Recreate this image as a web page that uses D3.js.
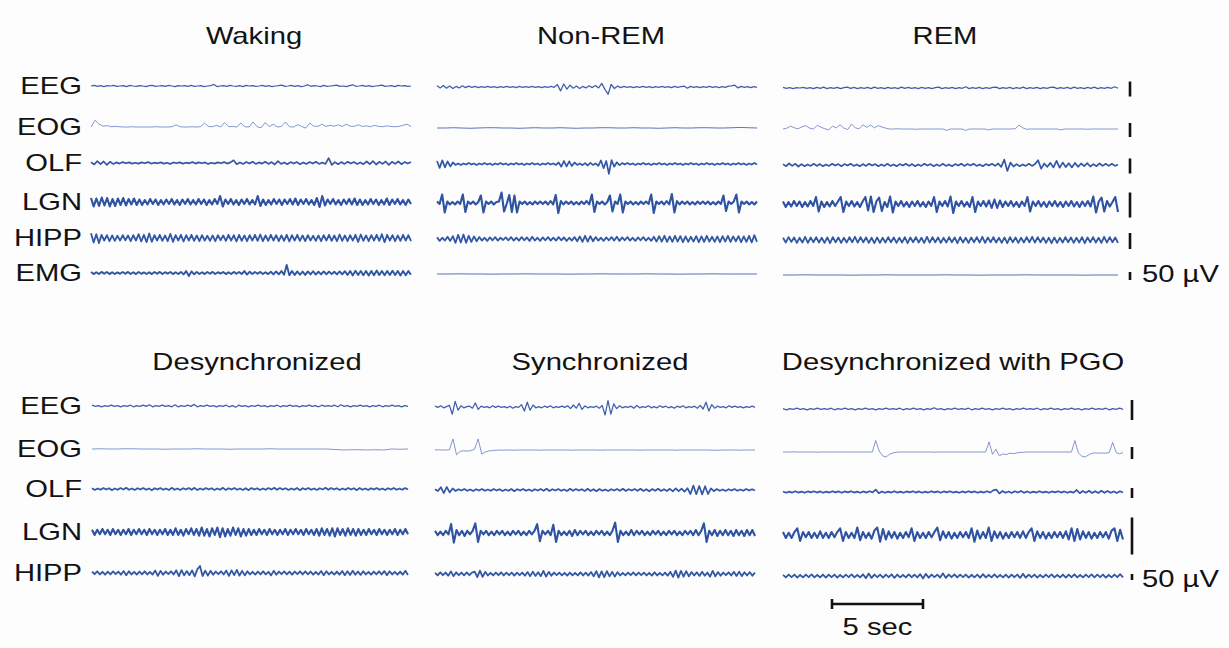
<!DOCTYPE html>
<html><head><meta charset="utf-8">
<script src="https://cdn.jsdelivr.net/npm/d3@7/dist/d3.min.js"></script>
<style>body{margin:0;background:#fdfdfd}svg{display:block}</style>
</head><body><svg id="c" width="1229" height="648"></svg>
<script>
// ---------- labels ----------
const topTitles = ["Waking", "Non-REM", "REM"];
const bottomTitles = ["Desynchronized", "Synchronized", "Desynchronized with PGO"];
const topChannels = ["EEG", "EOG", "OLF", "LGN", "HIPP", "EMG"];
const bottomChannels = ["EEG", "EOG", "OLF", "LGN", "HIPP"];
const ampBarValue = 50, ampBarLabel = "50 \u00B5V";
const timeBarValue = 5, timeBarLabel = "5 sec";

// ---------- traces (µV, evenly sampled across each panel) ----------
const wakeEEG = [0,2,-1,1,-2,1,0,2,-1,0,1,-2,2,0,-1,1,0,-2,1,2,-1,0,1,-1,2,0,-2,1,0,1,-1,2,-1,0,1,-2,0,1,5,-2,0,1,-1,2,0,-1,1,-2,2,0,1,-1,0,2,-1,1,-2,0,1,3,-1,0,2,-1,1,-2,0,4,-1,1,0,-2,2,-1,0,1,3,-1,0,-2,1,4,-1,0,2,-1,1,-2,0,1,3,-1,0,1,-2,2,0,1,-1,0];
const wakeEOG = [0,24,10,3,5,1,2,1,0,0,1,0,0,0,0,0,1,0,0,0,1,8,1,0,0,1,0,1,14,2,1,6,0,16,1,2,0,14,1,0,18,1,-3,16,1,10,0,2,18,1,0,8,2,-4,14,3,2,10,2,6,3,8,2,10,3,2,8,2,4,1,6,2,1,4,2,1,2,6,10,2];
const wakeOLF = [3,-5,6,-4,5,-6,4,-3,2,-2,3,-1,2,-2,1,-2,2,-1,3,-2,1,-1,2,-2,1,-3,2,-1,2,-2,1,-1,3,-2,2,-1,2,-3,1,-2,2,-1,3,-2,2,9,-4,2,-3,3,-2,4,-3,2,-2,4,-3,3,-5,6,-3,2,-4,3,-2,3,-4,2,-3,3,-2,4,-3,2,-3,16,-6,3,-4,3,-3,4,-2,3,-3,2,-4,5,-4,6,-5,4,-3,5,-6,4,-3,5,-4,3,-2,3];
const wakeLGN = [8,-9,7,-8,9,-7,8,-9,6,-8,7,-6,8,-7,6,-5,7,-6,5,-6,4,-5,6,-4,5,-6,4,-5,5,-4,6,-5,4,-6,5,-4,6,-5,4,-5,6,-4,5,-6,4,-5,6,-4,12,-9,5,-4,6,-5,4,-6,5,-4,6,-5,4,-5,12,-8,5,-6,4,-5,6,-4,5,-6,5,-4,6,-5,7,-6,5,-4,6,-5,4,-6,8,-10,12,-7,5,-4,6,-5,4,-6,5,-4,6,-5,7,-6,5,-6,4,-5,6,-4,5,-6,4,-5,7,-6,5,-4,6,-5,4,-6,5,-4];
const wakeHIPP = [15,-14,12,-16,10,-8,9,-10,8,-9,7,-8,9,-7,8,-10,9,-8,12,-11,10,-13,14,-12,9,-8,10,-9,8,-10,13,-12,9,-8,10,-11,9,-8,10,-9,8,-10,9,-8,7,-9,8,-10,9,-7,8,-9,10,-8,9,-11,10,-9,8,-10,9,-8,10,-9,11,-10,8,-9,10,-8,9,-10,8,-9,10,-11,9,-8,10,-9,8,-10,9,-8,7,-9,8,-10,9,-8,10,-9,8,-10,11,-9,8,-10,9,-8,10,-12,11,-9,8,-10,9,-8,10,-9,12,-13,10,-8,9,-10,8,-9,10,-8,9,-10];
const wakeEMG = [6,-7,5,-6,7,-5,6,-7,5,-6,4,-5,6,-5,7,-6,5,-7,6,-5,4,-6,5,-7,6,-5,7,-6,5,-4,6,-7,5,-6,7,-9,12,-19,10,-8,7,-6,5,-7,6,-5,7,-6,5,-4,6,-7,5,-6,7,-5,6,-7,12,-10,8,-7,6,-5,7,-6,5,-7,8,-9,10,-8,12,-11,50,-14,12,-13,10,-11,9,-12,10,-9,11,-10,8,-9,10,-8,9,-7,8,-9,10,-8,11,-12,13,-15,14,-12,13,-14,12,-15,13,-14,15,-13,12,-14,13,-12,14,-13,12,-15,13,-14,12,-11];

const nremEEG = [4,-3,5,-4,3,-5,2,-3,4,-2,3,-1,2,-2,1,-1,2,-1,1,-2,1,-1,2,-1,1,-2,2,-1,1,-1,2,-1,1,-2,1,-1,2,-1,8,-13,10,-7,6,-4,3,-5,2,-3,4,-2,5,-3,12,-8,-24,9,-5,3,-2,2,-1,1,-2,1,-1,2,-1,1,-2,1,-1,2,-1,1,-2,2,-1,1,3,-4,2,-1,1,-2,1,-1,2,-1,1,-2,1,-1,3,4,6,-3,2,-1,1,-2,1,-1];
const nremEOG = [0,0,1,0,-1,0,1,1,0,0,-1,0,1,0,0,1,0,-1,0,0,1,1,0,0,1,0,0,-1,0,1,0,0,1,1,0,0,1,2,1,0];
const nremOLF = [10,-13,12,-11,9,-8,5,-3,2,-3,2,-2,3,-2,2,-3,2,-2,3,-2,2,-3,2,-2,3,-2,2,-3,2,-2,3,-2,2,-3,2,-2,3,-2,2,-3,2,-2,3,-2,2,-3,5,-9,10,-8,9,-7,5,-3,2,-4,3,-5,4,-3,2,-6,12,-14,10,-33,13,-9,6,-4,3,-2,3,-2,2,-3,2,-2,3,-2,2,-3,2,-2,3,-2,2,-3,2,-2,3,-2,2,-3,2,-2,3,-2,2,-3,2,-2,3,-2,2,-3,2,-2,3,-2,2,-3,2,-2,3,-2,2,-3,2,-2,3,-2];
const nremLGN = [3,-2,17,-19,3,-3,2,-3,3,-2,17,-18,3,-2,3,-3,2,15,-19,3,-2,3,-3,2,3,21,-17,-2,16,-18,15,-19,3,-2,3,-3,2,-3,3,-2,3,-2,3,-3,4,-3,16,-20,4,-3,3,-2,3,-3,2,-3,3,-2,4,-3,17,-18,3,-2,3,-3,2,15,-17,3,-2,17,-19,3,-2,3,-3,2,-3,3,-2,3,-2,17,-20,3,-2,3,-3,4,-3,18,-19,4,-3,3,-2,3,-3,2,-3,3,-2,3,-2,3,-3,2,-3,3,-2,15,-16,3,-2,3,17,-19,3,-2,3,-3,2,-3,3];
const nremHIPP = [5,-6,4,-5,7,-6,9,-12,13,-11,14,-12,10,-9,8,-7,6,-5,4,-6,5,-4,6,-5,4,-3,5,-4,6,-5,4,-5,6,-4,5,-6,7,-5,4,-6,5,-4,6,-5,4,-5,6,-4,5,-6,4,-5,6,-7,8,-9,10,-8,9,-7,6,-5,4,-6,5,-4,6,-5,7,-6,5,-4,6,-5,4,-6,5,-4,6,-5,4,-6,7,-8,9,-8,10,-9,8,-9,10,-8,9,-10,8,-9,7,-8,9,-10,8,-9,10,-8,7,-9,8,-10,9,-8,10,-9,8,-7,9,-10,8,-9,10,-11,12,-9];
const nremEMG = [0,0,1,0,0,-1,0,0,1,0,0,0,-1,0,0,1,0,0,0,1,0,0,-1,0,0,1,0,0,0,0];

const remEEG = [2,-1,1,-2,1,0,2,-1,1,-2,2,-1,3,-2,1,-1,2,-2,1,3,-1,2,-2,1,-1,2,-2,3,-1,1,-2,2,-1,1,-2,3,-1,2,-1,1,-2,2,-1,1,-2,1,3,-2,1,-1,2,-2,1,-1,4,-2,1,-1,2,-2,1,-1,2,3,-2,1,-1,2,-2,1,-1,3,-2,1,-1,2,-2,1,-1,2,3,-2,1,-1,2,-2,3,-1,1,-2,2,-1,3,-2,1,-1,2,-1,4,-1];
const remEOG = [0,3,10,4,1,8,12,3,0,13,6,1,-3,10,4,15,3,-2,18,4,1,15,6,14,4,12,7,3,0,0,1,0,0,0,0,-1,0,0,0,0,0,0,0,-5,0,0,0,0,-5,0,0,0,0,0,-3,0,0,0,0,0,0,1,14,4,-1,0,0,0,0,0,0,0,0,-3,0,0,0,0,0,0,-1,0,0,0,0,0,0,0,0];
const remOLF = [3,-4,5,-3,4,-5,3,-4,2,-3,4,-3,3,-4,2,-3,4,-2,3,-4,3,-2,4,-3,2,-4,3,-3,4,-2,3,-4,2,-3,4,-3,2,-4,3,-2,4,-3,3,-4,2,-3,4,-2,3,-4,2,-3,4,-3,2,-4,3,-2,4,-3,3,-2,4,-3,2,-4,3,-2,4,-3,5,-6,18,-20,8,-5,3,-4,2,-3,4,-3,3,16,-12,5,-6,7,-8,14,-9,8,-7,6,-8,7,-6,5,-4,6,-5,3,-4,5,-3,4,-3,4,-3,2];
const remLGN = [5,-6,4,-5,6,-4,5,-6,4,-5,6,-4,14,-15,5,-6,4,-5,6,-4,5,14,-16,5,-4,6,-5,4,-6,5,14,-13,15,-16,5,13,-14,4,-6,15,-17,5,-4,6,-5,4,-6,5,-4,6,-5,4,-6,5,-4,14,-16,5,-4,6,-5,15,-18,5,-4,6,-5,4,-6,14,-16,5,-4,6,-5,7,-8,9,-8,7,-6,5,-4,6,-5,4,-6,5,-4,14,-15,5,-4,6,-5,4,-6,5,-4,6,-5,4,-6,5,-4,6,-5,4,-6,5,-4,6,-5,15,-17,5,13,-15,6,-5,4,14,-16];
const remHIPP = [7,-8,9,-6,8,-9,7,-8,10,-9,8,-7,9,-8,7,-9,8,-10,9,-7,8,-9,7,-8,9,-7,10,-8,9,-7,8,-9,7,-10,8,-9,7,-8,9,-7,8,-9,7,-8,9,-10,8,-7,9,-8,7,-9,10,-8,9,-7,8,-9,7,-8,9,-7,8,-10,9,-8,7,-9,8,-7,9,-8,10,-9,8,-7,9,-8,7,-9,8,-10,9,-7,8,-9,7,-8,9,-7,10,-8,9,-7,8,-9,7,-10,8,-9,7,-8,9,-7,8,-9,7,-8,9,-10,8,-7,9,-8,7,-9,10,-8,9,-7,8,-9];
const remEMG = [0,0,1,0,0,0,-1,0,0,1,0,0,0,0,1,0,0,-1,0,0,0,1,0,0,0,0,-1,0,0,0];

const desyncEEG = [2,-1,1,-2,1,-1,2,-1,1,-2,1,-1,2,-2,1,-1,2,-1,3,-2,1,-1,2,-1,1,-2,3,-2,1,-1,2,-1,4,-2,1,-1,2,-1,1,-2,1,-1,2,-2,1,-3,2,-1,1,-2,1,-1,2,-1,1,-2,1,-1,2,-2,1,-1,2,-1,1,-2,1,-1,2,-1,1,-2,2,-1,1,-1,2,-2,3,-1,1,-2,1,-1,2,-1,1,-2,1,-1,2,-2,1,-1,2,-1,1,-2,1,-1];
const desyncEOG = [0,1,0,0,1,1,0,0,0,-1,0,0,0,1,0,0,0,-1,0,0,0,0,1,0,0,0,0,0,0,0,-2,-4,-3,-3,-4,-3,-4,0,-1,0];
const desyncOLF = [4,-5,3,-4,5,-3,4,-6,3,-4,5,-3,6,-4,3,-5,4,-3,5,-4,3,-6,4,-3,5,-4,3,-5,6,-4,3,-5,4,-3,5,-4,6,-5,3,-4,5,-3,4,-5,3,-4,6,-5,4,-3,5,-4,3,-5,4,-6,5,-3,4,-5,3,-4,5,-3,6,-4,5,-3,4,-5,3,-4,5,-6,4,-3,5,-4,3,-5,4,-3,6,-4,5,-3,4,-5,3,-4,5,-3,4,-6,5,-4,3,-5,4,-3,5,-4,3,-5,4,-3,5,-4,3,-4,5,-3];
const desyncLGN = [3,-4,3,-3,4,-3,3,-4,4,-3,3,-4,3,-3,4,-4,3,-3,4,-3,3,-4,4,-3,3,-4,3,-3,4,-4,3,-4,5,-4,3,-5,4,-3,5,-4,4,-5,6,-5,4,-6,5,-4,6,-7,5,-6,4,-5,6,-4,5,-6,4,-5,4,-4,3,-4,4,-3,3,-4,4,-3,3,-4,3,-3,4,-4,3,-3,4,-3,3,-4,4,-3,3,-4,4,-5,5,-4,4,-5,5,-6,5,-4,4,-5,5,-4,4,-5,4,-4,3,-4,4,-3,3,-4,4,-3,3,-4,3,-3,4,-4,3,-3,4,-3];
const desyncHIPP = [12,-10,14,-12,10,-14,11,-12,13,-10,12,-14,16,-18,14,-12,10,-13,12,-11,14,-12,10,-13,20,-24,18,-14,12,-10,14,-12,22,-26,24,-20,16,-18,22,-28,30,58,-25,20,-22,18,-14,12,-10,14,-12,20,-24,22,-18,26,-22,18,-20,14,-12,10,-13,12,-11,14,-12,10,-20,18,-14,12,-10,13,-12,11,-14,12,-10,14,-12,13,-11,12,-14,10,-13,16,-18,14,-12,10,-13,12,-14,16,-18,14,-16,18,-14,12,-16,14,-12,10,-13,12,-11,14,-12,16,-18,14,-12,10,-13,12,-14,18,-16];

const syncEEG = [2,-1,3,-2,1,4,-18,14,-8,3,-2,1,2,-3,10,-6,2,-1,1,-2,3,-1,2,-1,1,-2,2,-3,1,-1,6,-10,12,-8,5,-2,1,-2,2,-1,3,-2,1,-1,2,-1,3,-4,5,-3,9,-6,3,-2,1,-1,2,-3,4,-20,16,-18,8,-4,3,-2,1,-1,2,-3,4,-2,1,-1,3,-2,1,-2,3,-1,2,-2,1,-3,2,-1,3,-2,1,-1,2,-3,4,-5,12,-10,6,-3,2,-1,1,-2,3,-1,2,-1,1,-2,1,-1,2,-1];
const syncEOG = [0,1,0,0,1,46,-20,-6,-3,-5,-2,3,46,-17,-8,-4,-2,-1,0,-1,0,0,-1,0,0,0,0,0,0,-1,0,0,0,0,0,0,0,0,-1,0,0,0,0,0,0,0,-1,0,0,0,0,0,0,0,0,0,0,-1,0,0,0,0,0,0,0,0,0,-1,0,0,0,0,0,0,0,0,0,-1,-1,-1,0,0,0,0,0,-1,0,0,0,0];
const syncOLF = [4,-5,14,-16,15,-12,8,-5,4,-3,5,-4,3,-5,4,-3,5,-4,3,-4,5,-3,4,-5,3,-4,5,-6,4,-3,5,-4,3,-5,4,-3,5,-4,6,-5,4,-3,5,-4,3,-5,6,-4,5,-3,4,-5,6,-5,4,-6,5,-4,3,-5,4,-3,5,-4,6,-5,4,-3,5,-4,6,-5,4,-6,5,-4,6,-5,4,-5,6,-7,8,-6,7,-8,9,-20,22,-21,20,-22,19,-20,8,-6,5,-4,3,-5,4,-3,5,-4,3,-4,5,-3,4,-3];
const syncLGN = [3,-3,2,-3,3,-2,12,-13,4,-3,3,-4,3,-2,3,13,-12,3,-2,3,-3,2,-3,3,-2,3,-3,2,-3,3,-2,3,-3,2,-3,3,-2,3,12,-11,3,-2,3,-3,11,-12,3,-3,2,-3,3,-4,4,-3,3,-2,3,-3,2,-3,3,-2,3,-3,2,-3,3,14,-12,3,-3,2,-3,4,-3,3,-2,3,-3,2,-3,3,-2,3,-3,2,-3,3,-2,3,-3,2,-3,3,-2,3,-3,4,-3,3,13,-12,3,-3,4,-4,3,-3,4,-3,3,-4,4,-3,3,-4,4,-3,4,-4];
const syncHIPP = [10,-12,14,-10,12,-14,22,-18,14,-10,12,-11,13,-10,12,20,-26,28,-24,18,-12,10,-11,12,-10,14,-12,11,-10,12,-13,11,-10,12,-14,16,-18,20,-16,14,-18,26,-22,18,-14,12,-10,11,-12,10,-13,12,-11,10,-12,14,-12,11,-13,16,-20,24,-28,22,-26,24,-20,18,-22,16,-12,10,-11,12,-10,13,-11,12,-10,11,-12,10,-13,14,-12,10,-11,12,-14,18,-24,28,-30,26,-22,24,-20,16,-12,14,-16,18,-14,12,-22,26,-20,16,-14,12,-10,14,-12,18,-16,20,-18,14,-12,16,-14,12];

const pgoEEG = [1,-2,1,-1,2,-1,1,-2,1,-1,2,-1,1,-1,2,-2,1,-1,2,-1,1,-2,1,-1,2,-1,1,-2,1,-1,2,-1,1,-1,2,-2,1,-1,2,-1,1,-2,1,-1,3,-1,1,-2,1,-1,2,-1,1,-1,2,-2,1,-1,2,-1,1,-2,1,-1,2,-1,1,-2,1,-1,2,-1,1,-1,2,-2,1,-1,2,-1,1,-2,1,-1,2,-1,1,-2,1,-1,2,-1,1,-1,2,-2,1,-1,2,-1];
const pgoEOG = [0,0,0,1,0,0,0,0,0,0,-1,0,0,0,0,0,0,0,0,0,0,0,0,0,0,0,0,48,4,-16,-21,-10,-4,-1,0,0,0,0,0,0,0,0,0,0,-1,0,0,0,0,0,0,0,0,0,0,0,0,0,0,0,42,-10,12,-16,-8,-11,-5,-7,-4,-2,-1,0,0,0,0,0,0,0,0,0,0,0,0,0,0,48,-4,-17,-21,-12,-5,-4,-5,-4,-5,-2,40,-2,-8,-2];
const pgoOLF = [3,-4,2,-3,4,-3,2,-4,3,-2,4,-3,3,-4,2,-3,4,-2,3,-4,3,-2,4,-3,2,-4,3,-3,4,-2,12,-6,3,-4,2,-3,4,-3,2,-4,3,-2,4,-3,3,-4,2,-3,4,-2,3,-4,3,-2,4,-3,2,-4,3,-3,4,-2,3,-4,2,-3,4,-3,8,12,-8,5,-4,3,-5,4,-3,5,-4,3,-4,2,-3,4,-3,2,-4,3,-2,4,-3,3,-4,2,-3,10,-6,5,-4,6,-5,4,-5,6,-4,5,-4,3,-5,4,-3];
const pgoLGN = [4,-4,3,-4,4,9,-8,4,-3,4,-4,3,-4,5,-4,3,-4,4,-3,4,9,-8,4,-4,3,-4,10,-7,4,-4,3,-5,6,10,-9,8,-6,5,-4,4,-5,3,-4,4,-3,9,-8,4,-4,3,-4,4,-3,4,10,-7,5,-4,4,-5,3,-4,4,-3,4,-4,9,-9,6,-5,4,-4,10,-8,5,-4,4,-5,3,-4,4,-3,4,-4,5,-4,4,9,-8,5,-4,4,-5,3,-4,4,-3,4,-4,5,-6,9,-8,8,-6,5,-4,4,-5,3,-4,4,-3,4,-5,6,9,-8,7,-6];
const pgoHIPP = [10,-12,11,-10,12,-13,10,-11,12,-10,13,-12,10,-11,12,-13,11,-10,12,-14,10,-12,11,-10,13,-12,10,-11,14,-18,20,-16,12,-10,11,-13,12,-10,14,-16,12,-11,10,-12,13,-10,11,-12,16,-20,18,-14,12,-10,11,-13,22,-16,12,-10,13,-12,11,-10,12,-13,10,-11,12,-14,16,-12,10,-11,13,-12,10,-11,12,-13,11,-10,12,-16,18,-14,11,-10,12,-13,10,-11,12,-10,13,-12,10,-11,12,-13,11,-10,14,-12,10,-11,12,-10,13,-12,11,-10,12,-13,10,-11,12,-10,16,-12];

// ---------- layout ----------
const W = 1229, H = 648;
const PX_PER_SEC = 91 / 5;
const STRETCH = 1.27;           // horizontal stretch of the scanned lettering
const FONT = "'Liberation Sans', Arial, Helvetica, sans-serif";
const colorByChannel = {EEG: "#3d5fab", EOG: "#7d90cc", OLF: "#3157a5", LGN: "#2d53a2", HIPP: "#3157a5", EMG: "#2f55a3"};
const widthByChannel = {EEG: 1.25, EOG: 0.95, OLF: 1.7, LGN: 2.1, HIPP: 1.8, EMG: 1.9};

const blocks = [
  { titles: topTitles, channels: topChannels,
    gains: [15, 14, 15, 25, 16, 8],            // px per 50 µV
    rows: [86, 127, 163, 202, 238, 273],
    cols: [[91, 411], [437, 757], [783, 1118]], colDy: [0, 1, 2],
    titleY: 44, titleX: [254, 601, 945], barX: 1130, ampTextY: 282,
    data: [[wakeEEG, wakeEOG, wakeOLF, wakeLGN, wakeHIPP, wakeEMG],
           [nremEEG, nremEOG, nremOLF, nremLGN, nremHIPP, nremEMG],
           [remEEG, remEOG, remOLF, remLGN, remHIPP, remEMG]] },
  { titles: bottomTitles, channels: bottomChannels,
    gains: [20, 12, 10, 37, 6],
    rows: [406, 449, 489, 532, 573],
    cols: [[92, 408], [435, 755], [783, 1123]], colDy: [0, 1, 3],
    titleY: 370, titleX: [257, 600, 953], barX: 1132, ampTextY: 587,
    data: [[desyncEEG, desyncEOG, desyncOLF, desyncLGN, desyncHIPP],
           [syncEEG, syncEOG, syncOLF, syncLGN, syncHIPP],
           [pgoEEG, pgoEOG, pgoOLF, pgoLGN, pgoHIPP]] }
];

const svg = d3.select("#c");
svg.append("rect").attr("width", W).attr("height", H).attr("fill", "#fdfdfd");

function stretchedText(x, y, txt, anchor) {
  return svg.append("text")
    .attr("transform", `translate(${x},${y}) scale(${STRETCH},1)`)
    .attr("text-anchor", anchor)
    .attr("font-family", FONT).attr("font-size", 23)
    .attr("fill", "#121212").text(txt);
}

blocks.forEach(b => {
  b.titles.forEach((t, c) => stretchedText(b.titleX[c], b.titleY, t, "middle"));
  b.channels.forEach((ch, r) => stretchedText(82, b.rows[r] + 8, ch, "end"));

  b.cols.forEach((range, c) => {
    const dur = (range[1] - range[0]) / PX_PER_SEC;
    const x = d3.scaleLinear().domain([0, dur]).range(range);
    b.channels.forEach((ch, r) => {
      const vals = b.data[c][r];
      const base = b.rows[r] + b.colDy[c];
      const half = b.gains[r] / 2;
      const y = d3.scaleLinear().domain([-ampBarValue / 2, ampBarValue / 2]).range([base + half, base - half]);
      const n = vals.length;
      const line = d3.line().x((d, i) => x(i * dur / (n - 1))).y(d => y(d));
      const flat = d3.max(vals, v => Math.abs(v)) <= 2 && ch !== "EEG";
      svg.append("path").datum(vals)
        .attr("d", line)
        .attr("fill", "none")
        .attr("stroke", flat ? "#5a72b9" : colorByChannel[ch])
        .attr("stroke-width", flat ? 1.0 : widthByChannel[ch])
        .attr("stroke-linejoin", "round");
    });
  });

  b.channels.forEach((ch, r) => {
    const base = b.rows[r] + b.colDy[2] + 1;
    const half = b.gains[r] / 2;
    const y = d3.scaleLinear().domain([-ampBarValue / 2, ampBarValue / 2]).range([base + half, base - half]);
    svg.append("line")
      .attr("x1", b.barX).attr("x2", b.barX)
      .attr("y1", y(-ampBarValue / 2)).attr("y2", y(ampBarValue / 2))
      .attr("stroke", "#111").attr("stroke-width", 2.6);
  });
  stretchedText(1142, b.ampTextY, ampBarLabel, "start");
});

const tx = d3.scaleLinear().domain([0, timeBarValue]).range([832, 832 + timeBarValue * PX_PER_SEC]);
const g = svg.append("g").attr("stroke", "#111").attr("stroke-width", 2.6);
g.append("line").attr("x1", tx(0)).attr("x2", tx(timeBarValue)).attr("y1", 604).attr("y2", 604);
[0, timeBarValue].forEach(v => g.append("line").attr("x1", tx(v)).attr("x2", tx(v)).attr("y1", 599).attr("y2", 609));
stretchedText(tx(timeBarValue / 2), 635, timeBarLabel, "middle");
</script></body></html>
